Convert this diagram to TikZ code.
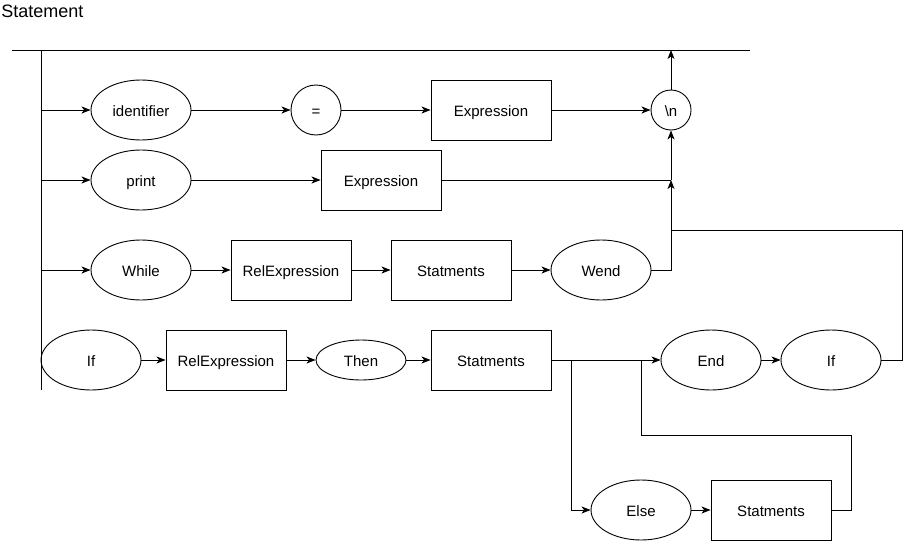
\documentclass[tikz,border=0pt]{standalone}
\usepackage{fontspec}
\setmainfont{Liberation Sans}
\usetikzlibrary{shapes.geometric,arrows.meta}

\tikzset{
	term/.style={shape=ellipse,draw=black,minimum width=100pt,minimum height=60pt,inner sep=0pt},
	nterm/.style={shape=rectangle,draw=black,minimum width=120pt,minimum height=60pt,inner sep=0pt},
	circ/.style={shape=circle,draw=black,inner sep=0pt},
}

\begin{document}
\begin{tikzpicture}[x=1pt,y=-1pt,line width=0.9pt,>={Stealth[length=9pt,width=7pt,inset=2.5pt]},
	every node/.style={font=\fontsize{15}{18}\selectfont,text height=14pt,text depth=2pt}]
			\useasboundingbox (0,0) rectangle (910,541);
			\node[anchor=west,inner sep=0pt,font=\fontsize{18}{21}\selectfont,text height=13pt,text depth=4pt] (title) at (1,13) {Statement};

			% rails
			\coordinate (top1) at (12,50);
			\coordinate (top2) at (750,50);
			\coordinate (rail1) at (41,50);
			\coordinate (rail2) at (41,390);
			\draw (top1) -- (top2);
			\draw (rail1) -- (rail2);

			% assignment
			\node[term] (0) at (141,110) {identifier};
			\node[circ,minimum size=50pt] (1) at (316,110) {=};
			\node[nterm] (2) at (491,110) {Expression};
			\node[circ,minimum size=40pt] (3) at (671,110) {\textbackslash n};

			% print
			\node[term] (4) at (141,180) {print};
			\node[nterm] (5) at (381,180) {Expression};

			% while
			\node[term] (6) at (141,270) {While};
			\node[nterm] (7) at (291,270) {RelExpression};
			\node[nterm] (8) at (451,270) {Statments};
			\node[term] (9) at (601,270) {Wend};

			% if
			\node[term] (10) at (91,360) {If};
			\node[nterm] (11) at (226,360) {RelExpression};
			\node[term,minimum width=90pt,minimum height=40pt] (12) at (361,360) {Then};
			\node[nterm] (13) at (491,360) {Statments};
			\node[term] (14) at (711,360) {End};
			\node[term] (15) at (831,360) {If};
			\node[term] (16) at (641,510) {Else};
			\node[nterm] (17) at (771,510) {Statments};

			\coordinate (a) at (41,110);
			\coordinate (b) at (41,180);
			\coordinate (c) at (41,270);
			\coordinate (top) at (671,50);
			\coordinate (j1) at (671,180);
			\coordinate (j2) at (671,230);
			\coordinate (j3) at (571,360);
			\coordinate (j4) at (641,360);

			\path [->] (a) edge (0);
			\path [->] (0) edge (1);
			\path [->] (1) edge (2);
			\path [->] (2) edge (3);
			\path [->] (3) edge (top);

			\path [->] (b) edge (4);
			\path [->] (4) edge (5);
			\draw (5) -- (j1);
			\path [->] (j1) edge (3);

			\path [->] (c) edge (6);
			\path [->] (6) edge (7);
			\path [->] (7) edge (8);
			\path [->] (8) edge (9);
			\draw [->] (9) -| (j1);

			\path [->] (10) edge (11);
			\path [->] (11) edge (12);
			\path [->] (12) edge (13);
			\path [->] (13) edge (14);
			\path [->] (14) edge (15);
			\draw (15.east) -- (902,360) |- (j2);
			\draw [->] (j3) |- (16);
			\path [->] (16) edge (17);
			\draw (17.east) -- (851,510) |- (641,435) -- (j4);
		\end{tikzpicture}
\end{document}
